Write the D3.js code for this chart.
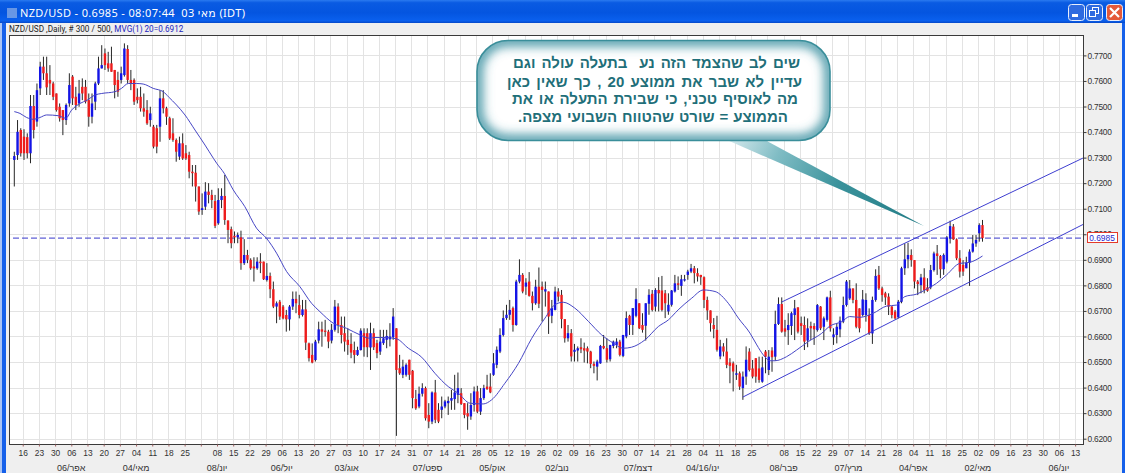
<!DOCTYPE html>
<html><head><meta charset="utf-8">
<script src="https://cdnjs.cloudflare.com/ajax/libs/d3/7.8.5/d3.min.js"></script>
<style>html,body{margin:0;padding:0;background:#efefef;overflow:hidden}svg{display:block}</style>
</head><body><svg id="c" width="1125" height="473"></svg>
<script>
// Prices in pips (1/10000), one entry per daily candle
const opens=[7291,7310,7408,7382,7380,7317,7502,7441,7571,7656,
7630,7604,7590,7551,7499,7486,7447,7512,7617,7538,
7512,7577,7577,7525,7460,7519,7590,7649,7708,7669,
7669,7643,7604,7604,7623,7725,7604,7604,7538,7538,
7493,7486,7447,7421,7415,7421,7532,7493,7454,7395,
7369,7304,7356,7317,7310,7245,7241,7187,7095,7108,
7167,7154,7130,7043,7134,7150,7054,7020,6994,6988,
6988,6887,6919,6900,6874,6867,6893,6893,6821,6837,
6785,6717,6736,6717,6684,6667,6717,6747,6723,6684,
6706,6573,6528,6508,6584,6628,6623,6619,6584,6626,
6717,6645,6613,6587,6571,6547,6528,6547,6613,6613,
6557,6613,6574,6541,6574,6587,6589,6597,6632,6476,
6450,6450,6509,6466,6355,6326,6376,6398,6293,6267,
6381,6313,6313,6326,6339,6349,6355,6372,6378,6339,
6300,6287,6332,6385,6306,6359,6404,6404,6450,6489,
6541,6606,6672,6685,6711,6645,6815,6841,6795,6815,
6759,6730,6795,6795,6776,6776,6681,6704,6776,6763,
6668,6593,6613,6540,6545,6558,6554,6554,6541,6493,
6482,6495,6563,6554,6511,6563,6567,6580,6524,6600,
6681,6645,6681,6730,6645,6642,6728,6767,6717,6782,
6780,6769,6698,6724,6776,6808,6798,6819,6841,6854,
6867,6848,6841,6832,6743,6702,6645,6626,6522,6561,
6541,6498,6495,6450,6456,6398,6443,6541,6475,6515,
6475,6423,6541,6469,6545,6521,6649,6727,6632,6625,
6641,6684,6714,6652,6645,6584,6641,6641,6625,6717,
6638,6665,6753,6597,6606,6628,6658,6723,6749,6788,
6743,6710,6684,6684,6684,6612,6743,6841,6788,6769,
6756,6717,6697,6675,6736,6867,6902,6919,6899,6815,
6801,6831,6792,6792,6860,6925,6915,6863,6893,6984,
7030,6980,6906,6880,6867,6889,6932,6964,7004,7036];
const highs=[7323,7447,7415,7411,7395,7545,7545,7590,7675,7695,
7695,7662,7597,7551,7512,7486,7512,7630,7623,7577,
7604,7610,7604,7551,7551,7597,7695,7740,7727,7714,
7734,7643,7636,7656,7747,7740,7643,7610,7571,7577,
7551,7525,7499,7428,7428,7564,7564,7499,7460,7454,
7375,7382,7395,7349,7323,7271,7271,7187,7160,7204,
7200,7174,7154,7180,7180,7232,7054,7030,7011,7007,
7014,6981,6939,6906,6910,6910,6926,6893,6887,6850,
6815,6737,6743,6723,6704,6723,6776,6776,6763,6743,
6743,6576,6573,6587,6658,6658,6665,6626,6649,6743,
6730,6678,6678,6632,6613,6580,6560,6632,6632,6632,
6654,6632,6587,6626,6626,6626,6652,6711,6632,6528,
6509,6495,6509,6469,6391,6404,6417,6404,6339,6385,
6430,6339,6365,6352,6365,6391,6450,6459,6398,6339,
6339,6378,6404,6407,6398,6411,6450,6456,6535,6561,
6632,6702,6724,6743,6717,6822,6902,6848,6828,6852,
6776,6822,6870,6815,6815,6776,6743,6795,6789,6782,
6668,6645,6629,6571,6561,6593,6576,6561,6544,6502,
6509,6567,6606,6593,6567,6584,6593,6587,6606,6698,
6685,6711,6789,6730,6691,6730,6785,6782,6789,6832,
6837,6782,6769,6782,6841,6835,6841,6841,6861,6884,
6876,6867,6841,6835,6756,6702,6672,6681,6587,6574,
6593,6515,6502,6489,6463,6463,6561,6554,6508,6515,
6521,6521,6547,6547,6558,6701,6753,6753,6665,6691,
6697,6743,6714,6678,6678,6671,6658,6652,6727,6719,
6678,6756,6779,6632,6652,6678,6756,6821,6821,6788,
6808,6710,6782,6769,6710,6756,6863,6876,6795,6775,
6769,6719,6704,6743,6873,6964,6967,6941,6899,6821,
6845,6867,6828,6880,6932,6958,6919,6925,6993,7053,
7040,6984,6938,6899,6912,6941,6997,6997,7043,7056];
const lows=[7187,7291,7304,7291,7297,7278,7375,7421,7545,7604,
7545,7545,7525,7480,7441,7388,7428,7499,7506,7486,
7499,7525,7512,7421,7434,7486,7584,7649,7643,7636,
7636,7532,7538,7590,7617,7590,7564,7506,7512,7480,
7460,7428,7421,7336,7317,7362,7473,7428,7369,7362,
7284,7291,7291,7291,7219,7187,7128,7076,7076,7095,
7121,7102,7024,7037,7102,7037,6965,6945,6965,6965,
6861,6880,6887,6861,6815,6861,6848,6821,6815,6750,
6711,6652,6665,6667,6619,6623,6704,6691,6671,6678,
6547,6502,6495,6502,6573,6560,6600,6554,6573,6619,
6613,6573,6541,6528,6515,6495,6524,6545,6521,6519,
6469,6547,6515,6528,6567,6554,6561,6587,6211,6450,
6437,6443,6430,6319,6313,6319,6365,6271,6241,6257,
6261,6261,6280,6319,6293,6313,6313,6339,6332,6280,
6235,6274,6306,6300,6293,6352,6391,6378,6446,6476,
6535,6600,6665,6665,6619,6642,6808,6769,6763,6756,
6702,6724,6711,6659,6717,6610,6652,6702,6737,6632,
6576,6580,6502,6502,6502,6535,6498,6495,6476,6456,
6428,6493,6550,6498,6502,6554,6554,6522,6519,6593,
6606,6606,6675,6629,6615,6584,6685,6698,6698,6698,
6698,6672,6685,6717,6772,6782,6759,6815,6822,6848,
6808,6815,6802,6711,6665,6619,6593,6541,6511,6522,
6476,6417,6385,6430,6391,6352,6411,6463,6436,6419,
6419,6419,6456,6449,6462,6505,6645,6615,6599,6567,
6606,6586,6612,6606,6547,6558,6586,6567,6619,6625,
6586,6658,6619,6567,6573,6597,6652,6717,6743,6730,
6632,6616,6678,6658,6606,6571,6736,6782,6736,6723,
6684,6671,6667,6671,6730,6841,6867,6873,6788,6762,
6769,6769,6775,6785,6854,6841,6828,6841,6886,6964,
6978,6899,6831,6837,6867,6798,6928,6951,6971,6971];
const closes=[7306,7401,7317,7317,7317,7502,7408,7564,7656,7630,
7575,7590,7538,7486,7454,7447,7506,7584,7532,7506,
7551,7551,7519,7460,7512,7590,7649,7662,7662,7649,
7636,7584,7558,7630,7727,7604,7590,7519,7525,7493,
7480,7434,7473,7343,7343,7532,7493,7460,7375,7369,
7323,7356,7297,7297,7245,7239,7187,7089,7102,7167,
7154,7134,7033,7134,7150,7056,7017,6965,6988,6997,
6887,6919,6900,6867,6866,6893,6887,6824,6837,6785,
6717,6730,6678,6671,6667,6717,6747,6730,6684,6706,
6576,6515,6498,6580,6628,6619,6618,6580,6626,6717,
6645,6606,6580,6567,6537,6528,6547,6623,6558,6558,
6613,6558,6535,6580,6593,6602,6600,6678,6469,6456,
6482,6489,6450,6359,6319,6376,6398,6280,6267,6381,
6274,6267,6326,6346,6348,6359,6381,6398,6336,6293,
6287,6332,6385,6306,6359,6398,6394,6381,6495,6548,
6606,6672,6685,6704,6645,6815,6841,6776,6811,6759,
6730,6795,6728,6782,6785,6678,6711,6776,6756,6668,
6593,6613,6522,6548,6554,6550,6545,6541,6493,6485,
6502,6563,6554,6509,6567,6580,6580,6528,6606,6672,
6645,6711,6746,6632,6626,6730,6763,6704,6782,6769,
6704,6730,6724,6780,6808,6802,6824,6824,6854,6867,
6848,6835,6832,6743,6702,6652,6629,6548,6561,6541,
6489,6485,6463,6456,6404,6443,6509,6469,6443,6443,
6430,6479,6521,6521,6519,6649,6727,6619,6619,6645,
6691,6710,6619,6641,6580,6632,6632,6628,6723,6632,
6671,6753,6632,6608,6638,6662,6723,6815,6788,6743,
6638,6632,6745,6743,6612,6743,6837,6788,6762,6753,
6717,6684,6671,6736,6867,6902,6919,6899,6815,6805,
6831,6782,6779,6860,6925,6915,6863,6919,6988,7032,
6980,6906,6854,6854,6889,6932,6964,6978,7036,6985];

// 20-day moving average: candle index / price in pips
const maIndex=[0,1.75,3.8,5.9,7.9,10,13.6,15.9,17.7,20.3,22.5,24.9,27,31.1,33.1,35.2,37.8,39.8,42.9,46,47.6,50.1,52.7,55.8,58.9,61.5,62.5,64.8,67.6,71.2,74.8,77.9,81,84.1,88.2,91.8,94.4,98.5,102.6,106.8,109.8,111.4,114.5,118,121.7,125.8,129.9,134,137.1,140.7,144.8,147.4,151.5,155.7,159.8,163.9,166.9,169.5,173.1,177.3,181.4,185,188,190.6,194.8,198.9,202,205,209.2,212.8,216.4,220.5,223.6,227.2,229.3,231.3,233.4,234.9,238.5,241.6,245.2,249.3,251.9,255.5,258,261.1,265.3,269.4,272.5,275,278.7,281.7,284.8,287.9,292,295,299];
const maValue=[7480,7473,7457,7450,7457,7467,7464,7454,7486,7512,7525,7545,7551,7558,7571,7590,7590,7588,7571,7558,7538,7506,7467,7408,7349,7297,7278,7239,7174,7108,7024,6984,6926,6854,6795,6730,6697,6652,6632,6606,6593,6596,6596,6591,6554,6519,6456,6404,6378,6339,6336,6352,6417,6495,6593,6672,6724,6734,6711,6659,6606,6574,6554,6558,6587,6639,6665,6704,6750,6782,6776,6730,6672,6613,6567,6528,6505,6505,6521,6547,6580,6612,6641,6658,6678,6675,6691,6719,6723,6756,6766,6785,6808,6841,6886,6890,6915];

// Trend channel anchors (candle index, price in pips)
const channelUpper=[[237,6735],[330,7298]];
const channelLower=[[225,6363],[330.3,7040]];
const lastPrice=0.6985;

const priceTicks=[0.77,0.76,0.75,0.74,0.73,0.72,0.71,0.70,0.69,0.68,0.67,0.66,0.65,0.64,0.63,0.62];
const weekLabels=["16","23","30","06","13","20","27","04","11","18","25","","08","15","22","29","06","13","20","27","03","10","17","24","31","07","14","21","28","05","12","19","26","02","09","16","23","30","07","14","21","28","04","11","18","25","","08","15","22","29","07","14","21","28","04","11","18","25","02","09","16","23","30","06","13"];
const monthLabels=["06/אפר","04/מאי","08/יונ","06/יול","03/אוג","07/ספט","05/אוק","02/נוב","07/דצמ","04/16/ינו","08/פבר","07/מרץ","04/אפר","02/מאי","06/יונ"];
const monthWeeks=[3,7,12,16,20,25,29,33,38,42,47,51,55,59,64];
const titleText="NZD/USD - 0.6985 - 08:07:44  03 מאי (IDT)";
const calloutLines=["שים לב שהצמד הזה נע  בתעלה עולה וגם","עדיין לא שבר את ממוצע 20 , כך שאין כאן","מה לאוסיף טכני, כי שבירת התעלה או את","הממוצע = שורט שהטווח השבועי מצפה."];
const calloutWidths=[287,295,286,270];

const W=1125,H=473,plot={l:9.5,t:35.5,r:1083.5,b:444.5};
const svg=d3.select("#c");
const x=d3.scaleLinear().domain([0,299]).range([14.3,982.5]);
const y=d3.scaleLinear().domain([0.62,0.77]).range([438.7,55.4]);
const p=v=>y(v/10000);
const weekTicks=weekLabels.map((_,k)=>2.6+5*k);
const SANS="'Liberation Sans',Arial,sans-serif";
const defs=svg.append("defs");

// window chrome
const tg=defs.append("linearGradient").attr("id","tb").attr("x2",0).attr("y2",1);
[[0,"#2a7af0"],[.12,"#0a5be2"],[.55,"#0455e0"],[.9,"#0a60ee"],[1,"#0648c8"]].forEach(s=>tg.append("stop").attr("offset",s[0]).attr("stop-color",s[1]));
svg.append("rect").attr("width",W).attr("height",H).attr("fill","#efefef");
svg.append("rect").attr("width",W).attr("height",23).attr("fill","url(#tb)");
svg.append("rect").attr("x",0).attr("y",23).attr("width",2).attr("height",H-23).attr("fill","#a9c4f5");
svg.append("rect").attr("x",2).attr("y",23).attr("width",4).attr("height",H-23).attr("fill","#1560ea");
svg.append("rect").attr("x",1122).attr("y",23).attr("width",3).attr("height",H-23).attr("fill","#1560ea");
svg.append("rect").attr("x",7).attr("y",8).attr("width",10).attr("height",10).attr("fill","#7fa6e6").attr("opacity",.8);
svg.append("text").attr("x",20).attr("y",16.5).attr("fill","#fff").attr("font-family","Tahoma,'Noto Sans','DejaVu Sans',sans-serif").attr("font-size",11).attr("letter-spacing",.35).attr("xml:space","preserve").style("white-space","pre").text(titleText);

// window buttons
[[1068,"#2f6be0"],[1086,"#2f6be0"],[1106,"#e4593a"]].forEach((b,i)=>{
  const g=svg.append("g").attr("transform",`translate(${b[0]},4)`);
  g.append("rect").attr("x",.5).attr("y",.5).attr("width",16).attr("height",16).attr("rx",3).attr("fill",b[1]).attr("stroke","#e8eefc");
  if(i==0) g.append("rect").attr("x",4).attr("y",10).attr("width",6).attr("height",3).attr("fill","#fff");
  if(i==1){g.append("rect").attr("x",6.5).attr("y",3.5).attr("width",6).attr("height",6).attr("fill","none").attr("stroke","#fff");
    g.append("rect").attr("x",3.5).attr("y",6.5).attr("width",6).attr("height",6).attr("fill",b[1]).attr("stroke","#fff");}
  if(i==2) g.append("path").attr("d","M4 4L13 13M13 4L4 13").attr("stroke","#fff").attr("stroke-width",2.2);
});

// info row
const info=svg.append("text").attr("x",9).attr("y",32).attr("font-family","Roboto,"+SANS).attr("font-size",8.2).attr("fill","#222");
info.append("tspan").text("NZD/USD ,Daily, # 300 / 500, ");
info.append("tspan").attr("fill","#2222bb").text("MVG(1) 20");
info.append("tspan").attr("fill","#2222bb").text("=0.6912");

// plot
svg.append("rect").attr("x",plot.l).attr("y",plot.t).attr("width",plot.r-plot.l).attr("height",plot.b-plot.t).attr("fill","#fff");
defs.append("clipPath").attr("id","pc").append("rect").attr("x",plot.l).attr("y",plot.t).attr("width",plot.r-plot.l).attr("height",plot.b-plot.t);
const grid=svg.append("g").attr("stroke","#e3e3e3");
grid.selectAll(".v").data(weekTicks).join("line").attr("x1",d=>Math.round(x(d))+.5).attr("x2",d=>Math.round(x(d))+.5).attr("y1",plot.t).attr("y2",plot.b);
grid.selectAll(".h").data(priceTicks).join("line").attr("x1",plot.l).attr("x2",plot.r).attr("y1",d=>Math.round(y(d))+.5).attr("y2",d=>Math.round(y(d))+.5);

const chart=svg.append("g").attr("clip-path","url(#pc)");
// dashed last price
chart.append("line").attr("x1",13).attr("x2",plot.r).attr("y1",y(lastPrice)).attr("y2",y(lastPrice)).attr("stroke","#3838cc").attr("stroke-width",1).attr("stroke-dasharray","6 3");

// candles
const idx=d3.range(opens.length);
chart.append("g").selectAll("line").data(idx).join("line")
  .attr("x1",i=>x(i)).attr("x2",i=>x(i)).attr("y1",i=>p(highs[i])).attr("y2",i=>p(lows[i]))
  .attr("stroke","#262626").attr("stroke-width",1);
chart.append("g").selectAll("rect").data(idx).join("rect")
  .attr("x",i=>x(i)-1.2).attr("width",2.4)
  .attr("y",i=>Math.min(p(opens[i]),p(closes[i])))
  .attr("height",i=>Math.max(1,Math.abs(p(opens[i])-p(closes[i]))))
  .attr("fill",i=>closes[i]>=opens[i]?"#1414e6":"#ee1c1c");

// moving average
chart.append("path").datum(maIndex).attr("fill","none").attr("stroke","#4646c4").attr("stroke-width",1)
  .attr("d",d3.line().x(d=>x(d)).y((d,i)=>p(maValue[i])).curve(d3.curveMonotoneX));

// channel
const ln=d3.line().x(d=>x(d[0])).y(d=>p(d[1]));
[channelUpper,channelLower].forEach(c=>chart.append("path").datum(c).attr("d",ln).attr("fill","none").attr("stroke","#3e3ed0").attr("stroke-width",1));

// frame
svg.append("rect").attr("x",plot.l).attr("y",plot.t).attr("width",plot.r-plot.l).attr("height",plot.b-plot.t).attr("fill","none").attr("stroke","#3a3a3a");

// axes
const yAxis=svg.append("g").attr("transform",`translate(${plot.r},0)`).call(d3.axisRight(y).tickValues(priceTicks).tickFormat(d3.format(".4f")).tickSize(3).tickPadding(1));
yAxis.select(".domain").remove();
yAxis.selectAll("line").attr("stroke","#3a3a3a");
yAxis.selectAll("text").attr("font-family",SANS).attr("font-size",8.4).attr("letter-spacing",-.25).attr("fill","#333");
const xAxis=svg.append("g").attr("transform",`translate(0,${plot.b})`).call(d3.axisBottom(x).tickValues(weekTicks).tickFormat((d,i)=>weekLabels[i]).tickSize(2).tickPadding(4));
xAxis.select(".domain").remove();
xAxis.selectAll("line").attr("stroke","#a06060");
xAxis.selectAll("text").attr("font-family",SANS).attr("font-size",8.4).attr("fill","#333");
svg.append("g").selectAll("text").data(monthLabels).join("text")
  .attr("x",(d,i)=>x(weekTicks[monthWeeks[i]])).attr("y",470.5).attr("text-anchor","middle")
  .attr("font-family",SANS).attr("font-size",9).attr("fill","#333").text(d=>d);

// last price box
svg.append("rect").attr("x",1087.5).attr("y",232.5).attr("width",30).attr("height",10).attr("fill","#fff").attr("stroke","#e43a2a");
svg.append("text").attr("x",1102).attr("y",241).attr("text-anchor","middle").attr("font-family",SANS).attr("font-size",8.4).attr("fill","#2a2ad0").text(d3.format(".4f")(lastPrice));

// callout
const tail=defs.append("linearGradient").attr("id","tail").attr("gradientUnits","userSpaceOnUse").attr("x1",735).attr("y1",135).attr("x2",905).attr("y2",222);
[[0,"#cfe6ea"],[.25,"#7fbcc4"],[.6,"#3a929b"],[1,"#27808a"]].forEach(s=>tail.append("stop").attr("offset",s[0]).attr("stop-color",s[1]));
const blur=defs.append("filter").attr("id","soft").attr("x","-10%").attr("y","-20%").attr("width","120%").attr("height","140%");
blur.append("feGaussianBlur").attr("stdDeviation",5.5);
const box={x:477,y:40.5,w:353,h:100,r:31};
defs.append("clipPath").attr("id","bc").append("rect").attr("x",box.x).attr("y",box.y).attr("width",box.w).attr("height",box.h).attr("rx",box.r);
svg.append("path").attr("d","M727 140L765 140L924 226Z").attr("fill","url(#tail)");
svg.append("rect").attr("x",box.x).attr("y",box.y).attr("width",box.w).attr("height",box.h).attr("rx",box.r).attr("fill","#fff");
svg.append("g").attr("clip-path","url(#bc)").append("rect").attr("x",box.x).attr("y",box.y).attr("width",box.w).attr("height",box.h).attr("rx",box.r)
  .attr("fill","none").attr("stroke","#3f93a3").attr("stroke-width",11).attr("filter","url(#soft)");
svg.append("rect").attr("x",box.x).attr("y",box.y).attr("width",box.w).attr("height",box.h).attr("rx",box.r).attr("fill","none").attr("stroke","#3a8e9a").attr("stroke-width",1.6);
const lineY=[68,87,104,122];
const centers=[656.5,654.5,655,653];
calloutLines.forEach((t,i)=>{
  const e=svg.append("text").attr("x",centers[i]).attr("y",lineY[i]).attr("text-anchor","middle")
    .attr("direction","rtl").attr("font-family",SANS).attr("font-weight","bold").attr("font-size",15).attr("fill","#1f6f79").style("white-space","pre").text(t);
  const len=e.node().getComputedTextLength();
  const n=t.split(" ").length-1;
  e.attr("word-spacing",(calloutWidths[i]-len)/n);
});
</script></body></html>
